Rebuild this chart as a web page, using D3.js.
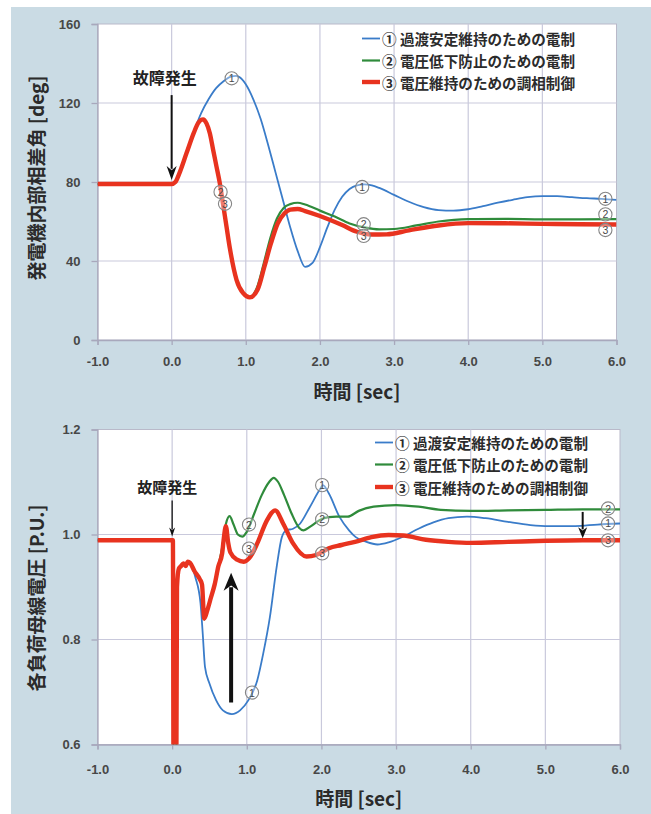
<!DOCTYPE html>
<html>
<head>
<meta charset="utf-8">
<script src="https://cdn.jsdelivr.net/npm/d3@7"></script>
<style>
  body { margin: 0; background: #ffffff; }
  svg { display: block; }
</style>
</head>
<body>
<script>
// ---- shared labels and ticks ----
const timeTicks = [-1, 0, 1, 2, 3, 4, 5, 6];
const angleTicks = [0, 40, 80, 120, 160];
const voltTicks = [0.6, 0.8, 1.0, 1.2];
const seriesNames = [
  "① 過渡安定維持のための電制",
  "② 電圧低下防止のための電制",
  "③ 電圧維持のための調相制御"
];
const seriesColors = ["#3a7cc9", "#2f8b3b", "#e8331f"];
const seriesWidths = [1.8, 2.2, 4.4];

// ---- generator internal phase angle [deg] vs time [sec] ----
const angleSeries1 = [
  [-1.0, 79], [0.0, 79], [0.05, 80], [0.1, 84], [0.2, 94.5], [0.3, 105.5], [0.4, 115],
  [0.5, 122], [0.6, 127.5], [0.7, 131], [0.8, 133.3], [0.87, 133.7], [0.95, 132],
  [1.0, 129.5], [1.1, 122], [1.2, 112], [1.3, 99], [1.4, 85], [1.5, 71], [1.6, 57],
  [1.7, 45], [1.8, 37], [1.9, 39], [2.0, 47], [2.1, 57], [2.2, 66], [2.3, 72.5],
  [2.4, 76.5], [2.5, 78.3], [2.6, 78.8], [2.7, 78.3], [2.8, 77], [3.0, 73.5],
  [3.2, 70], [3.4, 67.3], [3.6, 65.8], [3.8, 65.5], [4.0, 66.2], [4.2, 67.8],
  [4.4, 69.5], [4.6, 71], [4.8, 72.3], [5.0, 72.8], [5.2, 72.8], [5.4, 72.3],
  [5.6, 71.8], [5.8, 71.5], [6.0, 71]
];
const angleSeries2 = [
  [-1.0, 79], [0.0, 79], [0.05, 80], [0.1, 84], [0.2, 94.5], [0.3, 105], [0.36, 110],
  [0.425, 111.7], [0.47, 109.7], [0.516, 104.6], [0.56, 96.2], [0.605, 87.8], [0.65, 79.3],
  [0.695, 68.4], [0.74, 57.4], [0.785, 46.5], [0.875, 30.5], [0.965, 23.7], [1.055, 21.8],
  [1.15, 26.5], [1.24, 38.5], [1.33, 51.5], [1.42, 61.5], [1.51, 66.8], [1.6, 68.8],
  [1.7, 69.5], [1.8, 68.6], [2.0, 65.5], [2.2, 62.5], [2.4, 59], [2.6, 57], [2.8, 56],
  [3.0, 56.2], [3.3, 58], [3.6, 60], [4.0, 61.2], [4.5, 61.3], [5.0, 61.1], [5.5, 61.1],
  [6.0, 61.2]
];
const angleSeries3 = [
  [-1.0, 79], [0.0, 79], [0.05, 80], [0.1, 84], [0.2, 94.5], [0.3, 105], [0.36, 110],
  [0.425, 111.7], [0.47, 109.7], [0.516, 104.6], [0.56, 96.2], [0.605, 87.8], [0.65, 79.3],
  [0.695, 68.4], [0.74, 57.4], [0.785, 46.5], [0.875, 30.5], [0.965, 23.7], [1.055, 21.6],
  [1.16, 25.6], [1.25, 37], [1.34, 49], [1.43, 59], [1.52, 64], [1.6, 66], [1.7, 66.3],
  [1.8, 65.3], [2.0, 62.8], [2.3, 58.2], [2.5, 54.8], [2.7, 53.4], [2.9, 53.5],
  [3.2, 55.5], [3.6, 58], [4.0, 59.2], [4.5, 59.1], [5.0, 58.8], [5.5, 58.6], [6.0, 58.5]
];

// ---- load bus voltage [P.U.] vs time [sec] ----
const voltSeries1 = [
  [-1.0, 0.989], [0.01, 0.989], [0.02, 0.5], [0.055, 0.5], [0.065, 0.9], [0.09, 0.935],
  [0.12, 0.94], [0.15, 0.945], [0.18, 0.94], [0.21, 0.948], [0.25, 0.944], [0.31, 0.919],
  [0.38, 0.869], [0.41, 0.811], [0.44, 0.748], [0.5, 0.716], [0.59, 0.684], [0.68, 0.665],
  [0.8, 0.658], [0.91, 0.665], [1.02, 0.684], [1.14, 0.722], [1.22, 0.773], [1.31, 0.843],
  [1.4, 0.938], [1.47, 0.995], [1.53, 1.008], [1.62, 1.011], [1.71, 1.02], [1.84, 1.051],
  [1.98, 1.086], [2.02, 1.094], [2.1, 1.078], [2.24, 1.034], [2.37, 1.008], [2.46, 0.995],
  [2.6, 0.986], [2.75, 0.981], [2.9, 0.985], [3.08, 0.995], [3.3, 1.011], [3.5, 1.023],
  [3.7, 1.031], [3.95, 1.034], [4.2, 1.031], [4.5, 1.024], [4.8, 1.018], [5.05, 1.016],
  [5.4, 1.016], [5.7, 1.019], [6.0, 1.021]
];
const voltSeries2 = [
  [-1.0, 0.989], [0.01, 0.989], [0.02, 0.5], [0.055, 0.5], [0.065, 0.9], [0.09, 0.935],
  [0.12, 0.94], [0.15, 0.945], [0.18, 0.94], [0.21, 0.948], [0.24, 0.946], [0.3, 0.93],
  [0.37, 0.915], [0.4, 0.905], [0.43, 0.838], [0.47, 0.855], [0.52, 0.88], [0.57, 0.905],
  [0.62, 0.94], [0.67, 0.975], [0.72, 1.02], [0.77, 1.035], [0.82, 1.02], [0.88, 1.0],
  [0.94, 0.996], [1.0, 1.005], [1.1, 1.04], [1.2, 1.075], [1.3, 1.1], [1.36, 1.108],
  [1.42, 1.1], [1.5, 1.075], [1.6, 1.04], [1.7, 1.013], [1.76, 1.008], [1.85, 1.015],
  [1.95, 1.025], [2.0, 1.029], [2.1, 1.033], [2.2, 1.034], [2.35, 1.034], [2.5, 1.045],
  [2.7, 1.053], [3.0, 1.056], [3.3, 1.053], [3.6, 1.047], [4.0, 1.045], [4.5, 1.046],
  [5.0, 1.047], [5.5, 1.048], [6.0, 1.048]
];
const voltSeries3 = [
  [-1.0, 0.989], [0.01, 0.989], [0.02, 0.5], [0.055, 0.5], [0.065, 0.9], [0.09, 0.935],
  [0.12, 0.94], [0.15, 0.945], [0.18, 0.94], [0.21, 0.948], [0.24, 0.946], [0.3, 0.93],
  [0.37, 0.915], [0.4, 0.905], [0.43, 0.84], [0.47, 0.855], [0.52, 0.88], [0.57, 0.905],
  [0.62, 0.94], [0.67, 0.964], [0.69, 0.99], [0.72, 1.016], [0.75, 0.985], [0.78, 0.966],
  [0.87, 0.952], [0.96, 0.948], [1.05, 0.958], [1.14, 0.983], [1.27, 1.027], [1.38, 1.046],
  [1.49, 1.02], [1.62, 0.983], [1.8, 0.958], [1.93, 0.961], [2.0, 0.966], [2.1, 0.974],
  [2.27, 0.98], [2.45, 0.986], [2.67, 0.995], [2.9, 0.999], [3.1, 0.998], [3.4, 0.99],
  [3.7, 0.986], [4.0, 0.984], [4.5, 0.986], [5.0, 0.988], [5.5, 0.989], [6.0, 0.989]
];

// circled series numbers placed on the curves: [series, time, value]
const angleMarks = [
  [1, 0.81, 132.5], [2, 0.66, 75], [3, 0.72, 69],
  [1, 2.57, 77.5], [2, 2.59, 58.6], [3, 2.59, 52.7],
  [1, 5.85, 71.5], [2, 5.85, 63.6], [3, 5.85, 55.7]
];
const voltMarks = [
  [2, 1.03, 1.019], [3, 1.03, 0.973], [1, 1.07, 0.699],
  [1, 2.01, 1.094], [2, 2.01, 1.029], [3, 2.01, 0.964],
  [2, 5.84, 1.0495], [1, 5.84, 1.021], [3, 5.84, 0.989]
];

// annotation arrows: [time, fromValue, toValue, strokeWidth, headWidth, headLength]
const angleArrows = [[0, 124, 81, 2, 10, 14]];
const voltArrows = [
  [0, 1.065, 0.996, 1.3, 6, 9],
  [0.79, 0.68, 0.927, 4, 15, 18],
  [5.5, 1.043, 0.993, 2, 9, 11]
];
const faultLabel = "故障発生";

// ---- page ----
const W = 651, H = 814;
const svg = d3.select("body").append("svg").attr("width", W).attr("height", H);
svg.append("rect").attr("x", 11).attr("y", 7).attr("width", W - 11).attr("height", H - 7)
  .attr("fill", "#cadbe4");

const cjk = "'Noto Sans CJK JP', 'Noto Sans', sans-serif";
const num = "'Liberation Sans', Arial, sans-serif";

function drawPanel(cfg) {
  const g = svg.append("g");
  const x = d3.scaleLinear().domain([-1, 6]).range([cfg.left, cfg.right]);
  const y = d3.scaleLinear().domain(cfg.yDomain).range([cfg.bottom, cfg.top]);

  // plot background
  g.append("rect").attr("x", cfg.left).attr("y", cfg.top)
    .attr("width", cfg.right - cfg.left).attr("height", cfg.bottom - cfg.top)
    .attr("fill", "#ffffff").attr("stroke", "#b9b9c9").attr("stroke-width", 1);

  // grid
  g.append("g").selectAll("line").data(timeTicks.slice(1, -1)).join("line")
    .attr("x1", d => x(d)).attr("x2", d => x(d))
    .attr("y1", cfg.top).attr("y2", cfg.bottom)
    .attr("stroke", "#c9c9dc").attr("stroke-width", 1.2);
  g.append("g").selectAll("line").data(cfg.yTicks.slice(1, -1)).join("line")
    .attr("x1", cfg.left).attr("x2", cfg.right)
    .attr("y1", d => y(d)).attr("y2", d => y(d))
    .attr("stroke", "#c9c9dc").attr("stroke-width", 1.2);

  // axes
  const xAxis = g.append("g").attr("transform", `translate(0,${cfg.bottom})`)
    .call(d3.axisBottom(x).tickValues(timeTicks).tickSize(5).tickPadding(cfg.xPad)
      .tickFormat(d => d.toFixed(1)));
  const yAxis = g.append("g").attr("transform", `translate(${cfg.left},0)`)
    .call(d3.axisLeft(y).tickValues(cfg.yTicks).tickSize(6).tickPadding(11)
      .tickFormat(cfg.yFormat));
  [xAxis, yAxis].forEach(a => {
    a.select(".domain").attr("stroke", "#a8a8bc").attr("stroke-width", 1.3);
    a.selectAll(".tick line").attr("stroke", "#a8a8bc").attr("stroke-width", 1.3);
    a.selectAll("text").attr("font-family", num).attr("font-size", 13)
      .attr("font-weight", "bold").attr("fill", "#474747");
  });

  // axis titles
  g.append("text").attr("x", (cfg.left + cfg.right) / 2 + 0).attr("y", cfg.xTitleY)
    .attr("text-anchor", "middle").attr("font-family", cjk).attr("font-weight", "bold")
    .attr("font-size", 19).attr("fill", "#2b2b2b").text("時間 [sec]");
  g.append("text")
    .attr("transform", `translate(${cfg.yTitleX},${cfg.yTitleY}) rotate(-90)`)
    .attr("text-anchor", "middle").attr("dominant-baseline", "central")
    .attr("font-family", cjk).attr("font-weight", "bold")
    .attr("font-size", 19).attr("fill", "#2b2b2b").text(cfg.yTitle);

  // curves, clipped to the plot area
  const clipId = "clip-" + cfg.id;
  svg.append("clipPath").attr("id", clipId).append("rect")
    .attr("x", cfg.left).attr("y", cfg.top)
    .attr("width", cfg.right - cfg.left).attr("height", cfg.bottom - cfg.top);
  const line = d3.line().x(d => x(d[0])).y(d => y(d[1])).curve(d3.curveMonotoneX);
  const lines = g.append("g").attr("clip-path", `url(#${clipId})`);
  cfg.series.forEach((s, i) => {
    lines.append("path").datum(s).attr("d", line).attr("fill", "none")
      .attr("stroke", seriesColors[i]).attr("stroke-width", seriesWidths[i])
      .attr("stroke-linejoin", "round").attr("stroke-linecap", "butt");
  });

  // circled number markers
  const mk = g.append("g").selectAll("g").data(cfg.marks).join("g")
    .attr("transform", d => `translate(${x(d[1])},${y(d[2])})`);
  mk.append("circle").attr("r", 6.6).attr("fill", "rgba(255,255,255,0.35)")
    .attr("stroke", "#858585").attr("stroke-width", 1.1);
  mk.append("text").attr("text-anchor", "middle").attr("dominant-baseline", "central")
    .attr("font-family", num).attr("font-size", 10.5).attr("fill", "#4a4a4a").text(d => d[0]);

  // legend
  const lg = g.append("g").selectAll("g").data(seriesNames).join("g")
    .attr("transform", (d, i) => `translate(${cfg.legendX},${cfg.legendY[i]})`);
  lg.append("line").attr("x1", 0).attr("x2", 18)
    .attr("stroke", (d, i) => seriesColors[i]).attr("stroke-width", (d, i) => seriesWidths[i]);
  lg.append("text").attr("x", 20).attr("dominant-baseline", "central")
    .attr("font-family", cjk).attr("font-weight", "bold").attr("font-size", 14.6)
    .attr("fill", "#2b2b2b").text(d => d);

  // annotation arrows
  cfg.arrows.forEach(([t, v0, v1, sw, hw, hl]) => {
    const ax = x(t), y0 = y(v0), y1 = y(v1);
    const dir = Math.sign(y1 - y0);
    g.append("line").attr("x1", ax).attr("x2", ax).attr("y1", y0).attr("y2", y1 - dir * hl * 0.8)
      .attr("stroke", "#111").attr("stroke-width", sw);
    g.append("path")
      .attr("d", `M${ax - hw / 2},${y1 - dir * hl} L${ax},${y1} L${ax + hw / 2},${y1 - dir * hl} L${ax},${y1 - dir * hl * 0.7} Z`)
      .attr("fill", "#111");
  });
  g.append("text").attr("x", x(0) + cfg.faultDx).attr("y", cfg.faultY)
    .attr("text-anchor", "middle").attr("dominant-baseline", "central")
    .attr("font-family", cjk).attr("font-weight", "bold").attr("font-size", cfg.faultSize)
    .attr("fill", "#222").text(faultLabel);
}

drawPanel({
  id: "angle", left: 97.5, right: 616.5, top: 24, bottom: 340,
  yDomain: [0, 160], yTicks: angleTicks, yFormat: d3.format("d"),
  xPad: 12, xTitleY: 399, yTitleX: 35, yTitleY: 178,
  yTitle: "発電機内部相差角 [deg]",
  series: [angleSeries1, angleSeries2, angleSeries3],
  marks: angleMarks, arrows: angleArrows,
  legendX: 362, legendY: [38.5, 60.5, 82],
  faultDx: -7, faultY: 77, faultSize: 16
});

drawPanel({
  id: "volt", left: 97.5, right: 620, top: 429.5, bottom: 744.5,
  yDomain: [0.6, 1.2], yTicks: voltTicks, yFormat: d => d.toFixed(1),
  xPad: 15, xTitleY: 806, yTitleX: 35, yTitleY: 598,
  yTitle: "各負荷母線電圧 [P.U.]",
  series: [voltSeries1, voltSeries2, voltSeries3],
  marks: voltMarks, arrows: voltArrows,
  legendX: 375, legendY: [442.5, 464.5, 487],
  faultDx: -5, faultY: 486, faultSize: 15
});
</script>
</body>
</html>
